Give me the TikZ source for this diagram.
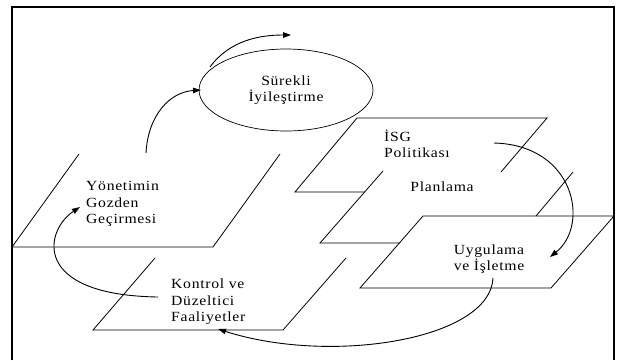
\documentclass[tikz,border=0pt]{standalone}
\usepackage{fontspec}
\setmainfont{Liberation Serif}[FakeStretch=1.12,LetterSpace=5]
\usetikzlibrary{arrows.meta,shapes.geometric}
\begin{document}
\begin{tikzpicture}[x=1pt,y=-1pt,
  plane/.style={line width=0.8pt},
  frame/.style={line width=1.2pt},
  flow/.style={line width=0.9pt,-{Triangle[length=8pt,width=5.5pt]}},
  lbl/.style={font=\fontsize{14}{16.5}\selectfont, inner sep=0pt},
]
\useasboundingbox (0,0) rectangle (620,360);
\draw[frame] (12,360) -- (12,7) -- (614,7) -- (614,360);
% planes
\draw[plane] (79,154) -- (12,247) -- (213,247) -- (280,154);
\draw[plane] (155,258) -- (93,330) -- (283,330) -- (346,258);
\draw[plane] (501,172) -- (547,118) -- (357,118) -- (295,192) -- (365,192);
\draw[plane] (383,171) -- (320,243) -- (400,243);
\draw[plane] (573,172) -- (536,216);
\draw[plane] (614,216) -- (423,216) -- (360,288) -- (551,288) -- (614,216);
% nodes
\node[draw, ellipse, line width=0.7pt, minimum width=174pt, minimum height=82pt, align=center, lbl] (si) at (286,90) {Sürekli\\İyileştirme};
\node[lbl, anchor=west, align=left] (yon) at (86,204) {Yönetimin\\Gozden\\Geçirmesi};
\node[lbl, anchor=west, align=left] (kon) at (171,302) {Kontrol ve\\Düzeltici\\Faaliyetler};
\node[lbl, anchor=west, align=left] (isg) at (384,144) {İSG\\Politikası};
\node[lbl] (pla) at (442,187) {Planlama};
\node[lbl, align=center] (uyg) at (489,259) {Uygulama\\ve İşletme};
% connector ends
\coordinate (a1s) at (210,67);  \coordinate (a1e) at (291,35);
\coordinate (a2s) at (146,153); \coordinate (a2e) at (201,90);
\coordinate (a3s) at (494,143); \coordinate (a3e) at (550,257);
\coordinate (a4s) at (493,278); \coordinate (a4e) at (218,329);
\coordinate (a5s) at (158,297); \coordinate (a5e) at (80,207);
\draw[flow] (a1s) .. controls (230,40) and (260,35) .. (a1e);
\draw[flow] (a2s) .. controls (148,115) and (170,92) .. (a2e);
\draw[flow] (a3s) .. controls (575,145) and (590,225) .. (a3e);
\draw[flow] (a4s) .. controls (490,340) and (330,365) .. (a4e);
\draw[flow] (a5s) .. controls (30,295) and (45,230) .. (a5e);
\end{tikzpicture}
\end{document}
